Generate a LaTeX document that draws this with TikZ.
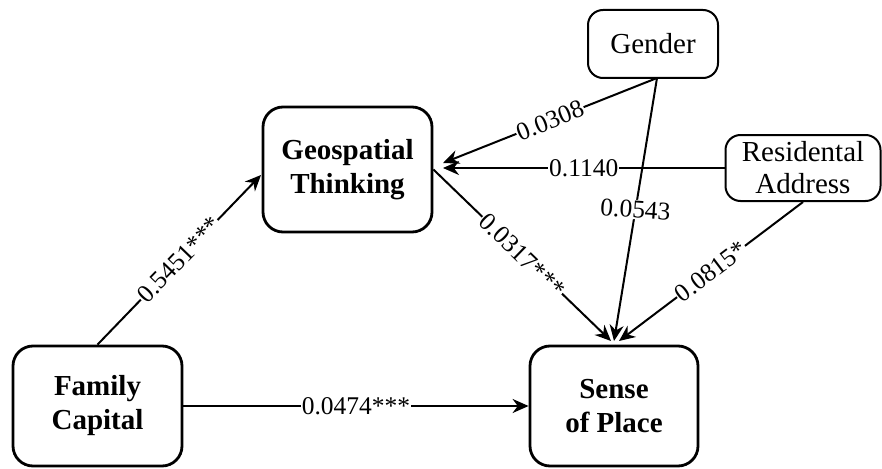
\documentclass[tikz,border=0pt]{standalone}
\usepackage{fontspec}
\setmainfont{LiberationSerif}[Extension=.ttf, UprightFont=*-Regular, BoldFont=*-Bold, ItalicFont=*-Italic, BoldItalicFont=*-BoldItalic]
\usetikzlibrary{arrows.meta,calc}
\tikzset{
  bigbox/.style={draw, line width=2.8pt, rounded corners=20pt, align=center,
    font=\fontsize{29}{34}\selectfont\bfseries, inner sep=0pt},
  smallbox/.style={draw, line width=2pt, rounded corners=15pt, align=center,
    font=\fontsize{29}{32}\selectfont, inner sep=0pt},
  link/.style={line width=2pt, -{Stealth[length=16pt,width=14pt]}},
  labfont/.style={font=\fontsize{25.5}{28}\selectfont},
  lab/.style={midway, sloped, fill=white, inner sep=1pt, labfont},
}
\begin{document}
\begin{tikzpicture}[x=1pt,y=-1pt]
\useasboundingbox (0,0) rectangle (882,468);
\node[bigbox, minimum width=169pt, minimum height=120pt] (fc) at (97.5,406) {Family\\Capital};
\node[bigbox, minimum width=168pt, minimum height=120pt] (sp) at (614,406) {Sense\\of Place};
\node[bigbox, minimum width=169pt, minimum height=125pt] (gt) at (347.5,169.5) {Geospatial\\Thinking};
\node[smallbox, minimum width=130pt, minimum height=68pt] (gd) at (653,44) {Gender};
\node[smallbox, minimum width=155pt, minimum height=66pt] (ra) at (803,168) {Residental\\Address};
\coordinate (gtin) at (261,175);
\coordinate (gtg) at (443,163);
\coordinate (gtr) at (443,168);
\coordinate (gdout) at (657,78);
\coordinate (sp1) at (611,341);
\coordinate (sp2) at (614,341);
\coordinate (sp3) at (619,341);
\draw[link] (fc.north) -- (gtin) node[lab] {0.5451***};
\draw[link] (fc.east) -- (sp.west) node[lab] {0.0474***};
\draw[link] (gt.east) -- (sp1) node[lab] {0.0317***};
\draw[link] (gdout) -- (gtg) node[lab] {0.0308};
\draw[link] (ra.west) -- (gtr) node[lab] {0.1140};
\draw[link] (gdout) -- (sp2);
\node[fill=white, inner sep=1pt, rotate=-4, labfont] (l0543) at ($(gdout)!0.5!(sp2)$) {0.0543};
\draw[link] (ra.south) -- (sp3) node[lab] {0.0815*};
\end{tikzpicture}
\end{document}
